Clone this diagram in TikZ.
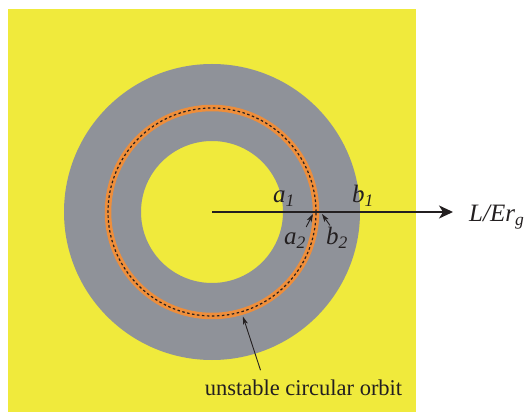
\documentclass[tikz,border=0pt]{standalone}
\usepackage{fontspec}
\setmainfont{Liberation Serif}
\usetikzlibrary{arrows.meta, positioning}
\definecolor{FieldYellow}{HTML}{F0EA3C}
\definecolor{DiskGray}{HTML}{8F9299}
\definecolor{OrbitOrange}{HTML}{EE8E3B}
\definecolor{InkText}{HTML}{231F20}

\begin{document}
\begin{tikzpicture}[x=1pt, y=1pt,
    lbl/.style={font=\fontsize{25}{29}\selectfont\itshape, text=InkText, inner sep=0pt, anchor=base west},
    ptr/.style={-{Stealth[length=8pt, width=5pt, inset=2pt]}, line width=0.9pt, draw=InkText},
    axis/.style={-{Stealth[length=14pt, width=13pt, inset=4pt]}, line width=1.8pt, draw=InkText}]
  \useasboundingbox (0,0) rectangle (526,412);

  % background and the two radii of the disk
  \fill[FieldYellow] (8,0) rectangle (416,403);
  \coordinate (c) at (212,200);
  \fill[DiskGray, even odd rule] (c) circle (148) (c) circle (71);

  % unstable circular orbit
  \draw[OrbitOrange, line width=6.5pt] (c) circle (104);
  \draw[InkText, line width=1.2pt, dash pattern=on 2.5pt off 2.5pt] (c) circle (104);

  % radial axis
  \node[lbl] (lr) at (469,190) {L/Er\textsubscript{g}};
  \coordinate (axisend) at (453,200);
  \draw[axis] (c) -- (axisend);

  \node[lbl] (a1) at (273,209) {a\textsubscript{1}};
  \node[lbl] (b1) at (352,209) {b\textsubscript{1}};
  \node[lbl] (a2) at (284,167) {a\textsubscript{2}};
  \node[lbl] (b2) at (326,167) {b\textsubscript{2}};

  \coordinate (a2tip) at (313,198);
  \coordinate (b2tip) at (322,198);
  \draw[ptr] ([yshift=6pt]a2.north east) -- (a2tip);
  \draw[ptr] ([shift={(4pt,2pt)}]b2.north west) -- (b2tip);

  \node[lbl, font=\fontsize{22.5}{26}\selectfont, anchor=base] (orbitlbl) at (303.5,17) {unstable circular orbit};
  \coordinate (orbitpt) at ([shift={(-73.5:109)}]c);
  \draw[ptr] ([shift={(-43pt,9pt)}]orbitlbl.north) -- (orbitpt);
\end{tikzpicture}
\end{document}
